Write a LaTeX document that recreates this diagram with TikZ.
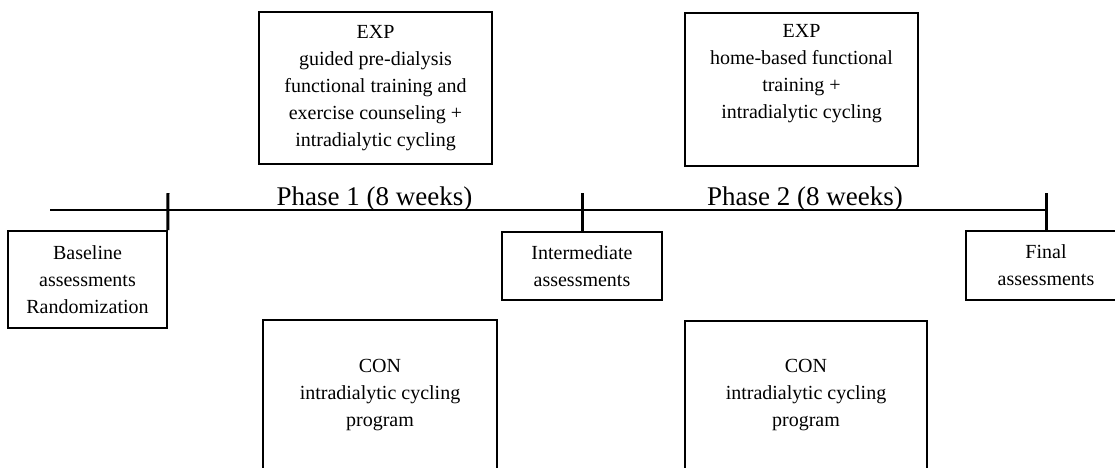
\documentclass[tikz,border=0pt]{standalone}
\usepackage{fontspec}
\setmainfont{Liberation Serif}
\usetikzlibrary{positioning}
\begin{document}
\begin{tikzpicture}[x=0.5pt,y=-0.5pt,
  blk/.style={draw=black,line width=0.9pt,align=center,inner sep=0pt,font=\fontsize{10}{13.5}\selectfont},
  txt/.style={align=center,inner sep=0pt,font=\fontsize{10}{13.5}\selectfont},
  phs/.style={inner sep=0pt,anchor=base,font=\fontsize{13.5}{16}\selectfont}]
  \useasboundingbox (0,0) rectangle (1115,467);
  \clip (0,0) rectangle (1115,467);
  \node[blk,minimum width=116.5pt,minimum height=76pt] (exp1) at (375.5,88) {EXP\\guided pre-dialysis\\functional training and\\exercise counseling +\\intradialytic cycling};
  \node[blk,minimum width=116.5pt,minimum height=76.5pt] (exp2) at (801.5,89.5) {};
  \node[txt,anchor=north] (exp2txt) at ([yshift=-5.75pt]exp2.north) {EXP\\home-based functional\\training +\\intradialytic cycling};
  \node[blk,minimum width=79.5pt,minimum height=48.5pt] (base) at (87.5,279.5) {Baseline\\assessments\\Randomization};
  \node[blk,minimum width=80pt,minimum height=34pt] (inter) at (582,266) {Intermediate\\assessments};
  \node[blk,minimum width=80pt,minimum height=34.5pt] (final) at (1046,265.5) {Final\\assessments};
  \node[blk,minimum width=117pt,minimum height=75pt] (con1) at (380,395) {CON\\intradialytic cycling\\program};
  \node[blk,minimum width=121pt,minimum height=74.5pt] (con2) at (806,395.5) {CON\\intradialytic cycling\\program};
  \node[phs] (ph1) at (374.5,205) {Phase 1 (8 weeks)};
  \node[phs] (ph2) at (805,205) {Phase 2 (8 weeks)};
  \coordinate (tlstart) at (50,210);
  \coordinate (tlend) at (1046,210);
  \coordinate (tk1) at (168,193);
  \coordinate (tk2) at (582,193);
  \coordinate (tk3) at (1046,193);
  \draw[line width=1.25pt] (tlstart) -- (tlend);
  \foreach \a/\b in {tk1/base.north east,tk2/inter.north,tk3/final.north}{\draw[line width=1.5pt] (\a) -- (\b);}
\end{tikzpicture}
\end{document}
